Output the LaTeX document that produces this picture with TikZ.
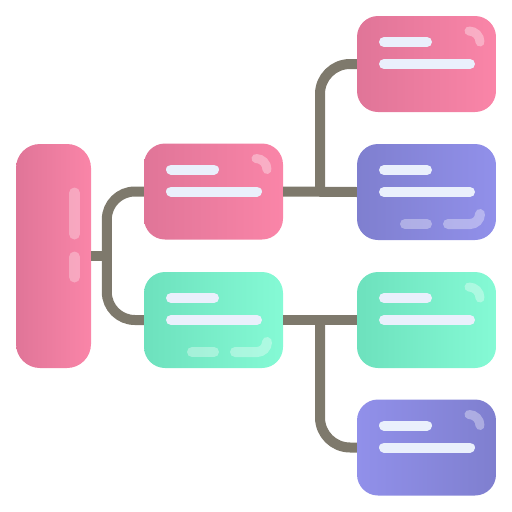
\documentclass[tikz,border=0pt]{standalone}
\usetikzlibrary{calc}
\definecolor{pinkL}{HTML}{E07598}
\definecolor{pinkR}{HTML}{FA85A8}
\definecolor{greenL}{HTML}{6DE1BD}
\definecolor{greenR}{HTML}{85FAD5}
\definecolor{purpL}{HTML}{7F7FCF}
\definecolor{purpR}{HTML}{9190EA}
\definecolor{connc}{HTML}{7E796C}
\definecolor{barc}{HTML}{EAF0FC}
\tikzset{
  card/.style={rectangle, rounded corners=21pt, inner sep=0pt, minimum width=139pt, minimum height=96pt, draw=none},
  rootbox/.style={rectangle, rounded corners=24pt, inner sep=0pt, minimum width=75pt, minimum height=224pt, draw=none},
  conn/.style={draw=connc, line width=10pt},
  txtbar/.style={draw=barc, line width=10pt, line cap=round},
  glint/.style={draw=white, draw opacity=0.35, line width=9pt, line cap=round},
}
\newcommand\cardtext[2]{%
  \begin{scope}[shift={(#1,#2)}]
    \draw[txtbar] (27,26) -- (70,26);
    \draw[txtbar] (27,48) -- (113,48);
  \end{scope}}
\newcommand\cardglint[2]{%
  \begin{scope}[shift={(#1,#2)}]
    \draw[glint] (112,15) arc[start angle=-90, end angle=0, radius=11];
  \end{scope}}
\newcommand\cardfoot[2]{%
  \begin{scope}[shift={(#1,#2)}]
    \draw[glint, line width=10pt] (48,80) -- (70,80);
    \draw[glint, line width=10pt] (91,80) -- (113,80) arc[start angle=90, end angle=0, radius=10];
  \end{scope}}
\begin{document}
\begin{tikzpicture}[x=1pt,y=-1pt]
\useasboundingbox (0,0) rectangle (512,512);
% nodes
\node[rootbox, left color=pinkL, right color=pinkR] (root) at (53.5,256) {};
\node[card, left color=pinkL, right color=pinkR] (m1) at (213.5,191.5) {};
\node[card, left color=greenL, right color=greenR] (m2) at (213.5,320) {};
\node[card, left color=pinkL, right color=pinkR] (r1) at (426.5,64) {};
\node[card, left color=purpL, right color=purpR] (r2) at (426.5,192) {};
\node[card, left color=greenL, right color=greenR] (r3) at (426.5,320) {};
\node[card, left color=purpR, right color=purpL] (r4) at (426.5,447.5) {};
% connectors
\draw[conn] (root.east) -- ++(16,0);
\draw[conn, rounded corners=28pt] (m1.west) -- ++(-37,0) |- (m2.west);
\draw[conn] (m1.east) -- (r2.west);
\coordinate (ja) at ($(m1.east)!0.5!(r2.west)$);
\draw[conn, rounded corners=30pt] (ja) |- (r1.west);
\draw[conn] (m2.east) -- (r3.west);
\coordinate (jb) at ($(m2.east)!0.5!(r3.west)$);
\draw[conn, rounded corners=30pt] (jb) |- (r4.west);
% root highlights
\draw[glint, line width=11pt, draw opacity=0.3] (74.5,193) -- (74.5,234);
\draw[glint, line width=11pt, draw opacity=0.3] (74.5,257) -- (74.5,277);
% card details
\cardtext{144}{143.5}\cardglint{144}{143.5}
\cardtext{144}{272}\cardfoot{144}{272}
\cardtext{357}{16}\cardglint{357}{16}
\cardtext{357}{144}\cardfoot{357}{144}
\cardtext{357}{272}\cardglint{357}{272}
\cardtext{357}{399.5}\cardglint{357}{399.5}
\end{tikzpicture}
\end{document}
